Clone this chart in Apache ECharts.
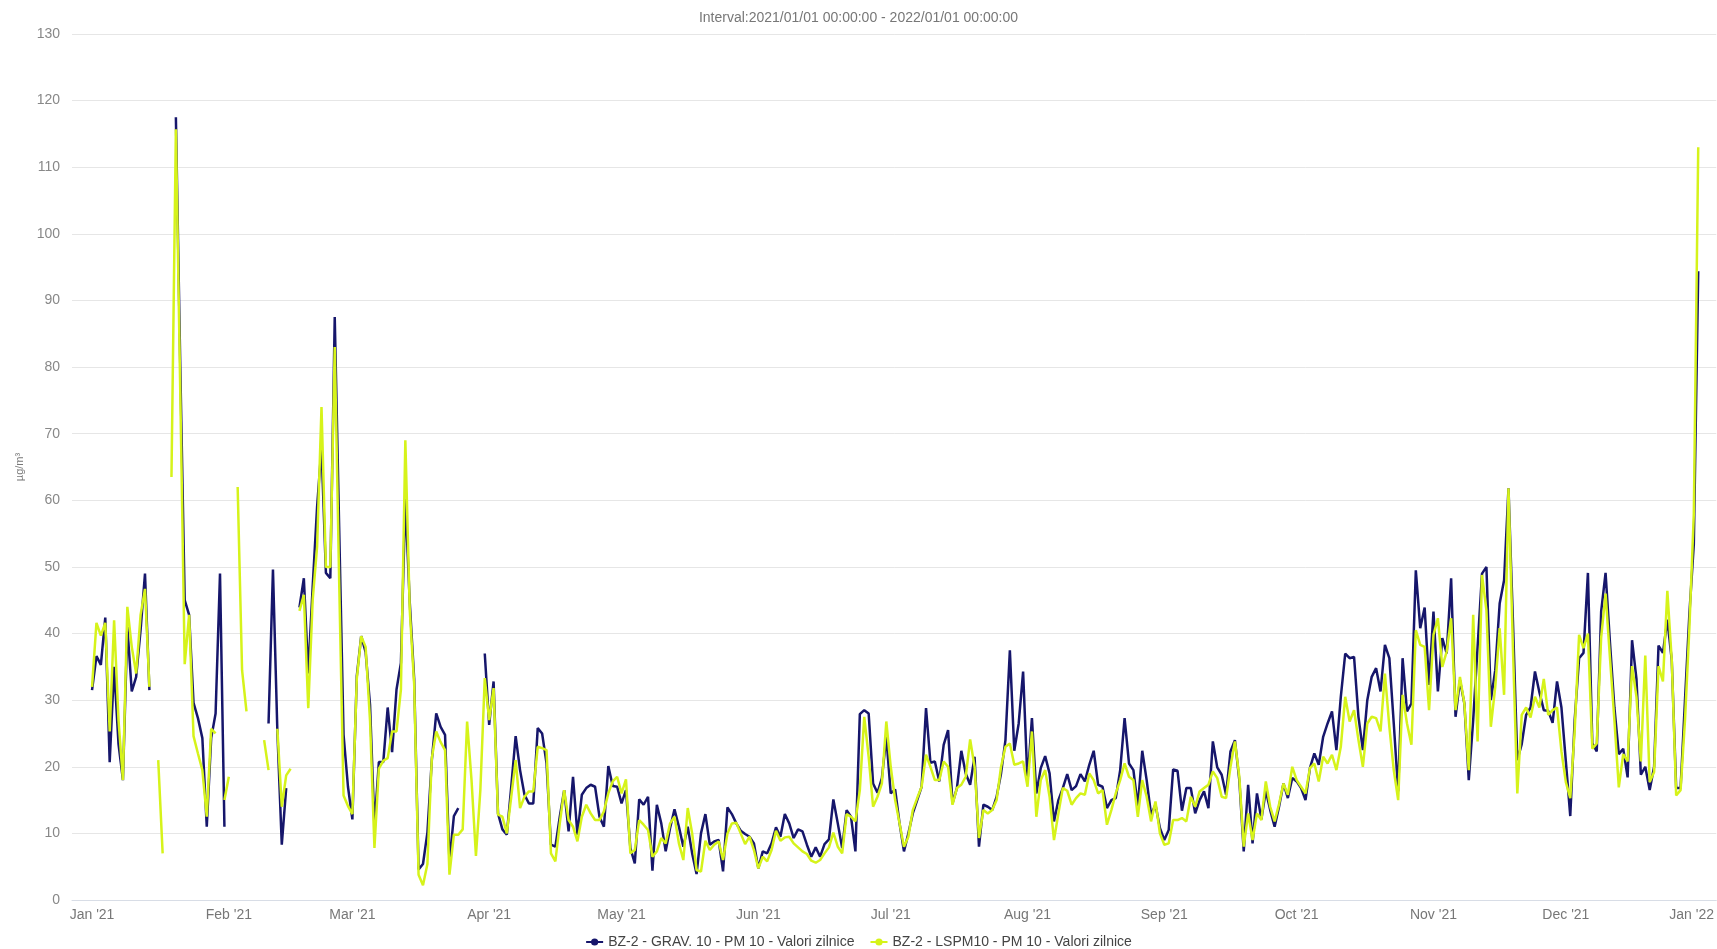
<!DOCTYPE html>
<html>
<head>
<meta charset="utf-8"/>
<title>PM10 BZ-2</title>
<script type="text/javascript" src="https://cdn.jsdelivr.net/npm/echarts@6/dist/echarts.min.js"></script>
<style type="text/css">
	body{
		margin: 0px;
		padding: 0px;
		background: #fff;
	}
	#chart{
		width: 1717px;
		height: 949px;
	}
</style>
</head>
<body>
	<div id="chart"></div>
<script type="text/javascript">
	// daily values, 2021-01-01 .. 2021-12-31 (null = no measurement)
	var startDay = [2021, 0, 1];
	var monthNames = ['Jan','Feb','Mar','Apr','May','Jun','Jul','Aug','Sep','Oct','Nov','Dec'];
	var gravName = 'BZ-2 - GRAV. 10 - PM 10 - Valori zilnice';
	var lspmName = 'BZ-2 - LSPM10 - PM 10 - Valori zilnice';
	var gravValues = [
		31.5, 36.6, 35.3, 42.4, 20.7, 35, 23.4, 18, 41, 31.3,
		33.5, 40.5, 49, 31.5, null, null, null, null, null, 117.5,
		80, 45, 42.8, 29.6, 27.3, 24.3, 11, 24.3, 28, 49,
		11, null, null, null, null, null, null, null, null, null,
		26.5, 49.6, 25.3, 8.3, 16.8, null, null, 43.9, 48.3, 34,
		47, 59, 68, 49.1, 48.3, 87.5, 56, 24.8, 17, 12.1,
		33.6, 39.6, 37.2, 29.3, 11, 20.7, 20.7, 28.9, 22.2, 31.6,
		35.6, 60.2, 44.7, 33.2, 4.6, 5.4, 10.1, 21, 28, 26,
		24.8, 5.8, 12.6, 13.8, null, null, null, null, null, 37,
		26.3, 32.8, 13, 10.6, 9.8, 17, 24.6, 19.5, 15.8, 14.5,
		14.5, 25.8, 25, 20.5, 8.3, 8, 12.5, 16.5, 10.3, 18.5,
		9.8, 15.8, 16.8, 17.3, 17, 12.5, 11, 20.1, 17.1, 17,
		14.5, 16.5, 7.8, 5.5, 15.1, 14.3, 15.5, 4.4, 14.3, 11.5,
		7.3, 10.8, 13.6, 11, 8, 11, 7, 3.9, 10, 12.9,
		8.3, 8.8, 9, 4.3, 13.9, 12.9, 11.5, 10.4, 9.9, 9.5,
		8.5, 4.75, 7.3, 7, 8.5, 10.9, 9.5, 12.9, 11.5, 9.3,
		10.6, 10.3, 8.3, 6.5, 7.9, 6.5, 8.4, 9.1, 15.1, 11.5,
		7.8, 13.5, 12.5, 7.3, 27.9, 28.5, 28, 17.5, 16.1, 18.3,
		24.5, 16, 16.6, 11.5, 7.3, 10, 13, 15, 17, 28.8,
		20.6, 20.8, 17.8, 23.3, 25.5, 14.5, 16.8, 22.4, 19, 17.3,
		21.5, 8, 14.3, 14, 13.5, 15.5, 19, 24, 37.5, 22.4,
		26.5, 34.3, 17.8, 27.3, 16, 19.8, 21.6, 19, 11.8, 15,
		16.8, 18.9, 16.5, 17.1, 18.9, 17.8, 20.3, 22.4, 17.3, 17,
		13.8, 15, 15.3, 19.5, 27.3, 20.5, 19.5, 14, 22.4, 18,
		12.8, 14.3, 10.8, 9, 10.5, 19.6, 19.4, 13.4, 16.8, 16.8,
		13, 15, 16.3, 13.8, 23.8, 19.9, 18.8, 15.8, 22.3, 24,
		18, 7.3, 17.3, 8.5, 16, 12.1, 16.4, 13.5, 11, 14,
		17.5, 15.3, 18.3, 17.8, 16.8, 15, 19.8, 22, 20.3, 24.5,
		26.5, 28.3, 22.5, 30.5, 37, 36.3, 36.5, 27.5, 22.5, 30,
		33.5, 34.8, 31.3, 38.3, 36.3, 26.5, 16.3, 36.3, 28.3, 29.5,
		49.5, 40.8, 43.9, 32.3, 43.3, 31.3, 39.3, 37, 48.3, 27.5,
		33, 29.5, 18, 27, 38, 49, 50, 30, 34.5, 44.5,
		48, 61.8, 42, 21, 23.4, 27.8, 28.9, 34.3, 31.2, 28.5,
		28.4, 26.6, 32.8, 28.9, 20.8, 12.6, 27, 36.3, 37.1, 49.1,
		23.5, 22.3, 43.3, 49.1, 38.6, 28.9, 21.9, 22.7, 18.4, 39,
		33.2, 18.8, 20, 16.5, 20, 38.2, 37.1, 42.1, 36, 16.8,
		16.8, 30, 43, 53.4, 94.4
	];
	var lspmValues = [
		32, 41.6, 39.7, 41.6, 25.3, 42, 27, 18, 44, 38,
		34, 42.8, 46.7, 32, null, 21, 7, null, 63.5, 115.7,
		76, 35.4, 42.8, 24.6, 22, 19.5, 12.5, 25.7, 25, null,
		15, 18.5, null, 62, 34.5, 28.3, null, null, null, 24,
		19.5, null, 25.7, 14, 18.7, 19.7, null, 43.4, 45.8, 28.8,
		45, 53, 74, 50, 50, 83, 48, 15.7, 14.1, 12.9,
		33.2, 39.6, 38, 26.9, 7.8, 19.7, 20.9, 21.3, 25.3, 25.3,
		31.6, 69, 43.5, 32.4, 3.8, 2.2, 5.4, 21.3, 25.3, 23.7,
		22.5, 3.8, 9.8, 9.8, 10.6, 26.8, 18, 6.6, 16.5, 33.3,
		27, 31.8, 12.8, 12.5, 10, 15.5, 21, 13.8, 15.5, 16.3,
		16.3, 23, 22.8, 22.5, 7, 5.8, 11.5, 16.5, 12, 11,
		8.8, 12.5, 14.3, 13, 12, 12, 13.3, 16, 17.8, 18.5,
		16, 18.1, 7, 7.5, 12, 11.3, 10.5, 6.5, 7.3, 9.3,
		8.5, 11.5, 12.5, 8.5, 6, 13.8, 10, 4.5, 4.25, 8.9,
		7.5, 8.3, 8.8, 6, 10, 11.5, 11.6, 10, 8.4, 9.5,
		7.5, 4.75, 6.5, 5.8, 7.5, 10.4, 8.9, 9.4, 9.5, 8.5,
		7.9, 7.3, 6.9, 5.9, 5.6, 6, 7, 7.9, 10.1, 8,
		7, 12.9, 12.5, 11.8, 16.5, 27.5, 21.5, 14, 15.5, 17.5,
		26.8, 20, 15, 11.5, 8, 9.5, 13.5, 15.3, 17, 21.8,
		20, 18, 18, 20.8, 20, 14.3, 16.8, 17.3, 18.5, 24.1,
		20, 9.3, 13.5, 13, 13.5, 15, 20, 23, 23.5, 20.3,
		20.5, 20.8, 17, 25.3, 12.5, 18, 19.5, 15.5, 9, 13,
		16.8, 16.4, 14.3, 15.3, 16, 15.8, 19, 18, 16, 16.5,
		11.3, 13.5, 16, 18, 20.5, 18.5, 18, 12.5, 18, 15.5,
		11.8, 14.8, 10, 8.3, 8.5, 12, 12, 12.3, 11.8, 15.5,
		14, 16.3, 16.8, 17.3, 19.3, 18.3, 15.5, 15.3, 20, 23.8,
		18.5, 8, 13, 9, 13, 12, 17.8, 14, 11.8, 14.4,
		17.5, 15.8, 20, 18, 17, 16, 19.8, 20.5, 17.8, 21.5,
		20.5, 21.8, 19.5, 23, 30.5, 26.8, 28.5, 24, 20, 26.5,
		27.5, 27.3, 25.3, 34, 26, 19.5, 15, 30.8, 26.5, 23.3,
		40.5, 38.3, 38, 28.5, 39.8, 42.3, 35, 37.3, 42.3, 28.5,
		33.5, 29.5, 19.5, 42.8, 23.8, 48.8, 43.5, 26, 32, 40.8,
		30.8, 61.8, 38, 16, 27.8, 28.9, 27.4, 30.5, 28.9, 33.2,
		27.8, 28.5, 28.9, 22.3, 17.7, 15.3, 25.4, 39.8, 37.8, 40,
		22.7, 23.5, 39.4, 46, 36.3, 27, 16.9, 21.9, 20.8, 35.1,
		30.5, 20.8, 36.7, 17.7, 19.2, 35.1, 32.8, 46.4, 36, 15.7,
		16.5, 27, 40.9, 58, 113
	];

	// pair each value with its day
	function toSeries(values){
		var out = [];
		for(var i=0;i<values.length;i++){
			var d = new Date(startDay[0], startDay[1], startDay[2] + i);
			out.push([d.getTime(), values[i]]);
		}
		return out;
	}

	var myChart = echarts.init(document.getElementById('chart'));
	var option = {
		animation: false,
		backgroundColor: '#fff',
		textStyle: {
			fontFamily: 'Liberation Sans, Arial, sans-serif'
		},
		title: {
			text: 'Interval:2021/01/01 00:00:00 - 2022/01/01 00:00:00',
			left: 'center',
			top: 6,
			textStyle: {
				fontSize: 14,
				fontWeight: 'normal',
				color: '#777'
			}
		},
		legend: {
			top: 930,
			left: 'center',
			itemWidth: 17,
			itemHeight: 9,
			itemGap: 15,
			textStyle: {
				fontSize: 14,
				color: '#444'
			},
			data: [gravName, lspmName]
		},
		grid: {
			left: 72,
			right: 0,
			top: 34,
			bottom: 49
		},
		xAxis: {
			type: 'time',
			min: new Date(2020, 11, 27, 11).getTime(),
			max: new Date(2022, 0, 4, 2).getTime(),
			splitNumber: 12,
			minInterval: 28 * 864e5,
			maxInterval: 31 * 864e5,
			splitLine: { show: false },
			axisTick: { show: false },
			axisLine: {
				lineStyle: { color: '#d8dde6' }
			},
			axisLabel: {
				color: '#777',
				fontSize: 14,
				margin: 8,
				showMinLabel: false,
				showMaxLabel: false,
				formatter: function(val){
					var d = new Date(val);
					var txt = monthNames[d.getMonth()] + " '" + String(d.getFullYear()).slice(2);
					if(d.getFullYear() == 2022){
						return '{last|' + txt + '}';
					}
					return txt;
				},
				rich: {
					last: {
						color: '#777',
						fontSize: 14,
						padding: [0, 22, 0, 0]
					}
				}
			}
		},
		yAxis: {
			type: 'value',
			min: 0,
			max: 130,
			interval: 10,
			name: 'µg/m³',
			nameLocation: 'middle',
			nameRotate: 90,
			nameGap: 46,
			nameTextStyle: {
				color: '#777',
				fontSize: 11
			},
			axisLine: { show: false },
			axisTick: { show: false },
			axisLabel: {
				color: '#888',
				fontSize: 14,
				margin: 12
			},
			splitLine: {
				lineStyle: { color: '#e6e6e6' }
			}
		},
		series: [
			{
				name: gravName,
				type: 'line',
				showSymbol: false,
				symbol: 'circle',
				symbolSize: 6,
				connectNulls: false,
				itemStyle: { color: '#16166b' },
				lineStyle: { width: 2.5, color: '#16166b' },
				data: toSeries(gravValues)
			},
			{
				name: lspmName,
				type: 'line',
				showSymbol: false,
				symbol: 'circle',
				symbolSize: 6,
				connectNulls: false,
				itemStyle: { color: '#d6f31a' },
				lineStyle: { width: 2.5, color: '#d6f31a' },
				data: toSeries(lspmValues)
			}
		]
	};
	myChart.setOption(option);
</script>
</body>
</html>
